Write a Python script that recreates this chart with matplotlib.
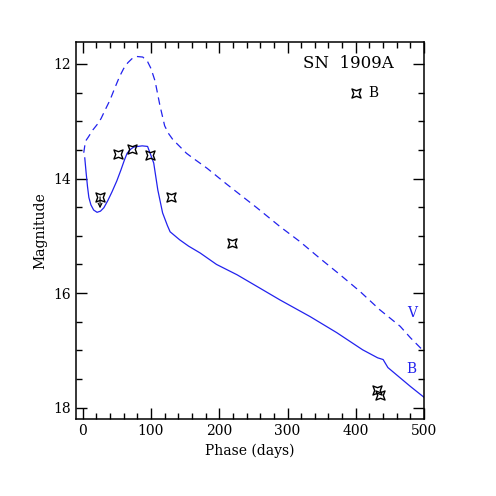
import matplotlib
matplotlib.use("Agg")
import matplotlib.pyplot as plt
from matplotlib.path import Path
import numpy as np

# B-band template curve (solid)
b_phase = [3, 5, 7, 9, 12, 16, 21, 26, 31, 37, 43, 50, 56, 61, 65, 70, 75, 87, 95, 100, 104,
           110, 117, 124, 128, 135, 142, 155, 172, 196, 226, 259, 289, 333, 372, 410, 432,
           440, 447, 465, 480, 500]
b_mag = [13.64, 13.9, 14.14, 14.33, 14.46, 14.55, 14.59, 14.57, 14.51, 14.38, 14.23, 14.04,
         13.85, 13.68, 13.56, 13.49, 13.45, 13.43, 13.44, 13.6, 13.73, 14.2, 14.6, 14.82,
         14.93, 15.0, 15.07, 15.18, 15.3, 15.5, 15.68, 15.91, 16.12, 16.41, 16.69, 16.99,
         17.13, 17.16, 17.3, 17.48, 17.63, 17.82]

# V-band template curve (dashed)
v_phase = [1.5, 4, 8, 15, 23, 27, 33, 40, 47, 54, 60, 66, 72, 79, 88, 95, 100, 106, 113, 120,
           126, 132, 152, 161, 182, 211, 255, 289, 318, 347, 377, 406, 435, 465, 480, 500]
v_mag = [13.55, 13.35, 13.28, 13.15, 13.03, 12.95, 12.8, 12.63, 12.42, 12.22, 12.08, 11.98,
         11.91, 11.87, 11.88, 11.96, 12.08, 12.3, 12.72, 13.08, 13.22, 13.32, 13.56, 13.64,
         13.82, 14.1, 14.51, 14.84, 15.1, 15.39, 15.68, 15.97, 16.29, 16.58, 16.78, 17.02]

# Observed B points
obs_phase = [25.4, 52, 72.8, 98, 130, 218, 431, 435]
obs_mag = [14.32, 13.58, 13.48, 13.59, 14.33, 15.13, 17.7, 17.78]

plt.rcParams['font.family'] = ['DejaVu Serif']

# concave four-point star marker, points on the diagonals
r_in = 0.62
verts = [(1, 1), (0, r_in), (-1, 1), (-r_in, 0), (-1, -1), (0, -r_in), (1, -1), (r_in, 0), (1, 1)]
star = Path(verts, [Path.MOVETO] + [Path.LINETO] * 7 + [Path.CLOSEPOLY])

fig = plt.figure(figsize=(4.96, 4.96), dpi=100)
ax = fig.add_axes([0.153, 0.155, 0.702, 0.76])

blue = '#2222ee'
ax.plot(b_phase, b_mag, '-', color=blue, lw=0.9)
ax.plot(v_phase, v_mag, '--', color=blue, lw=0.9, dashes=(6, 4))

ax.plot(obs_phase, obs_mag, linestyle='none', marker=star, ms=6.5,
        mfc='none', mec='black', mew=1.0)
ax.annotate('', xy=(obs_phase[0], obs_mag[0] + 0.2), xytext=(obs_phase[0], obs_mag[0]),
            arrowprops=dict(arrowstyle='->', lw=0.8, color='black',
                            shrinkA=0, shrinkB=0, mutation_scale=7))

# legend-like marker and label
ax.plot([400], [12.51], linestyle='none', marker=star, ms=6.5, mfc='none', mec='black', mew=1.0)
ax.text(418, 12.51, 'B', fontsize=10, va='center', ha='left')
ax.text(455, 12.0, 'SN  1909A', fontsize=12, va='center', ha='right')
ax.text(482, 16.34, 'V', fontsize=10, color=blue, va='center', ha='center')
ax.text(481, 17.32, 'B', fontsize=10, color=blue, va='center', ha='center')

ax.set_xlim(-10, 500)
ax.set_ylim(18.2, 11.62)
ax.set_xticks([0, 100, 200, 300, 400, 500])
ax.set_xticks(np.arange(0, 501, 20), minor=True)
ax.set_yticks([12, 14, 16, 18])
ax.set_yticks(np.arange(12, 18.01, 0.5), minor=True)
ax.tick_params(which='both', direction='in', top=True, right=True, labelsize=10, width=1)
ax.tick_params(which='major', length=8)
ax.tick_params(which='minor', length=4)
for s in ax.spines.values():
    s.set_linewidth(1.1)
ax.set_xlabel('Phase (days)', fontsize=10)
ax.set_ylabel('Magnitude', fontsize=10)

fig.savefig('out.png', dpi=100)
